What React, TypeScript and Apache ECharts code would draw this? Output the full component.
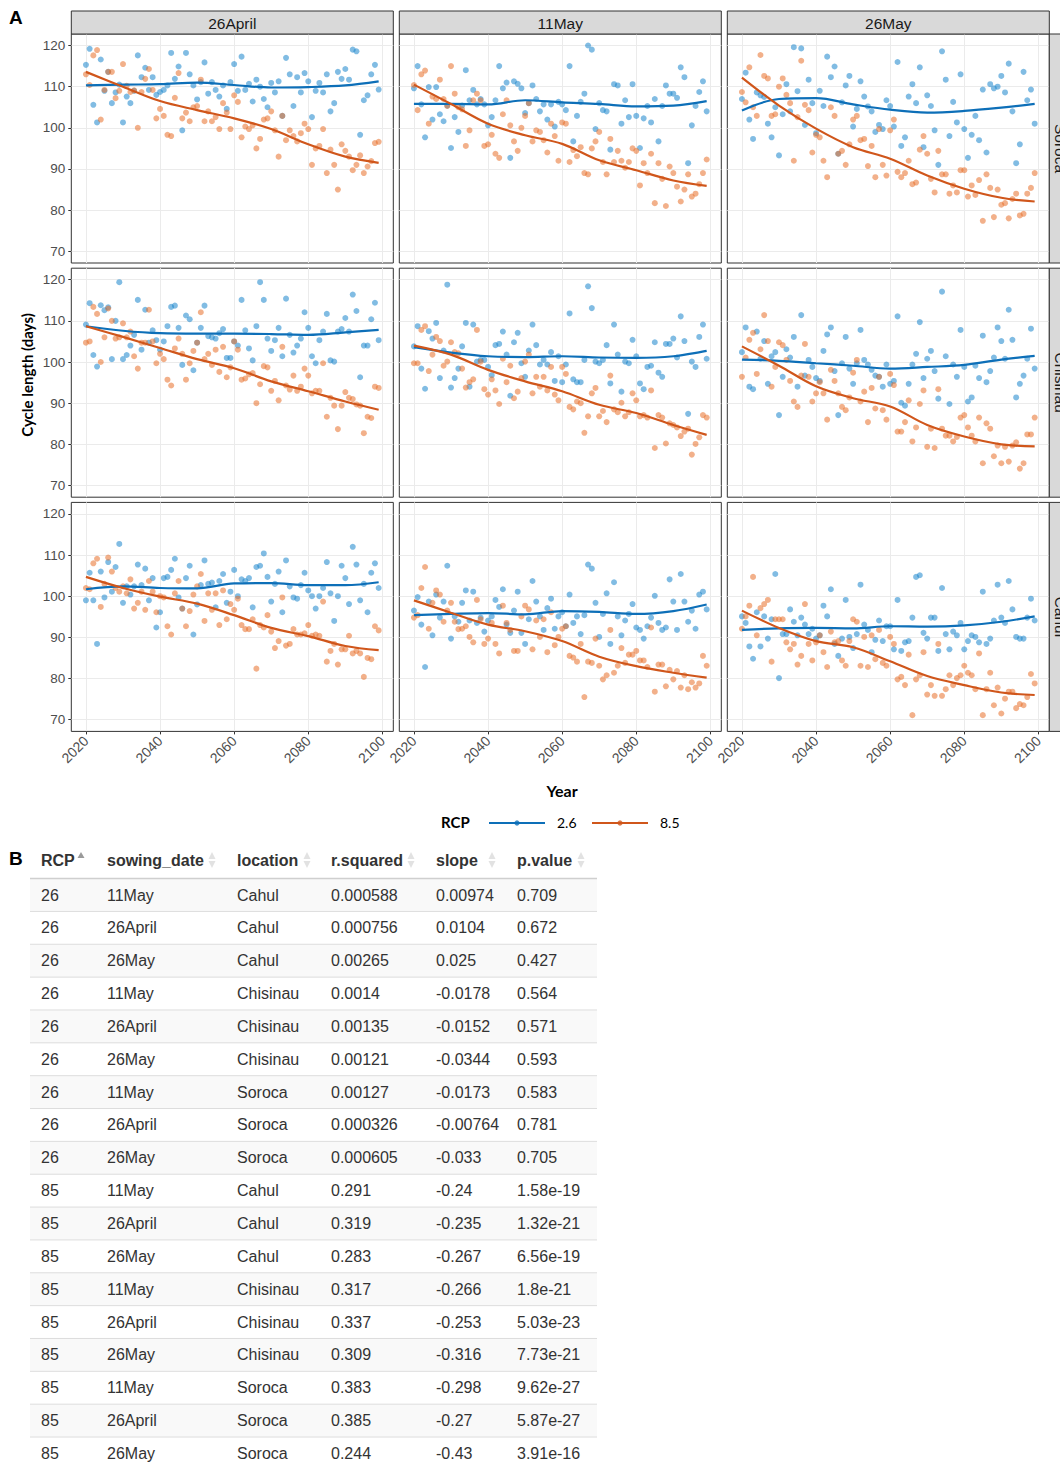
import React, { useEffect, useRef } from "react";
import * as echarts from "echarts";

// ---------- Facets ----------
const locations = ["Soroca", "Chisinau", "Cahul"];
const sowingDates = ["26April", "11May", "26May"];
const firstYear = 2020;
const xTickValues = [2020, 2040, 2060, 2080, 2100];
const yTickValues = [70, 80, 90, 100, 110, 120];
const smoothYears = [2020, 2030, 2040, 2050, 2060, 2070, 2080, 2090, 2099];

// ---------- Yearly cycle length (2020..2099) ----------
const soroca26April_rcp26 = [
  115.3,119.2,105.6,101.3,116.6,109.0,113.6,106.0,108.6,110.5,
  101.3,107.6,106.0,109.0,117.6,112.3,114.6,109.2,112.3,108.0,
  108.7,109.2,110.3,118.2,111.9,114.9,99.4,118.2,113.0,110.3,
  106.9,111.1,115.9,108.3,111.1,109.2,107.6,110.3,104.6,111.1,
  115.5,109.0,117.3,109.2,110.7,106.4,111.7,110.0,107.0,105.0,
  110.9,108.6,111.3,102.9,117.0,113.0,105.3,112.3,108.6,113.3,
  111.3,102.6,109.0,110.9,108.6,113.0,104.0,106.0,113.6,111.9,
  114.3,111.7,119.0,118.6,98.3,106.7,107.9,113.0,115.3,109.3];
const soroca26April_rcp85 = [
  113.0,110.4,117.6,118.9,102.0,109.2,113.6,113.6,107.2,109.0,
  115.5,110.2,108.7,109.1,100.0,108.7,111.9,114.3,109.2,102.3,
  104.6,102.9,98.3,98.0,107.3,113.3,102.3,103.7,101.6,105.0,
  105.3,111.7,101.6,104.0,101.6,102.6,99.7,106.0,103.7,99.7,
  107.9,106.3,97.7,100.3,99.7,100.6,95.0,97.3,102.0,102.3,
  104.0,99.4,93.0,102.9,97.0,99.4,98.0,96.7,98.7,101.0,
  99.7,91.0,95.0,95.6,99.7,89.0,94.7,91.0,85.0,96.0,
  94.4,93.0,89.7,91.0,93.3,89.0,90.6,91.9,96.3,96.6];
const soroca11May_rcp26 = [
  109.6,115.0,105.7,97.7,109.9,102.0,109.9,103.3,101.6,105.4,
  95.1,102.6,99.0,105.4,114.0,106.7,109.2,105.7,107.0,105.7,
  100.6,102.6,106.7,115.0,109.6,111.0,92.7,111.3,110.7,109.6,
  103.6,106.0,110.3,107.0,104.0,105.7,102.0,105.7,100.3,106.3,
  105.7,104.3,115.0,96.7,102.9,106.3,108.3,120.0,119.0,99.7,
  106.0,104.3,104.0,94.7,110.6,110.3,101.0,106.7,102.6,110.6,
  102.9,95.1,102.3,105.3,101.3,107.0,96.7,105.3,110.3,108.3,
  108.3,107.3,114.7,112.3,91.4,100.6,105.3,108.7,111.3,104.0];
const soroca11May_rcp85 = [
  110.4,104.3,113.0,113.9,101.0,107.6,107.0,111.7,107.0,105.3,
  115.0,108.3,105.0,104.5,95.6,99.4,106.7,108.3,106.7,95.6,
  96.0,98.3,93.7,92.7,103.3,106.7,100.6,96.7,94.4,100.0,
  102.9,106.0,96.7,99.4,99.0,97.0,94.0,101.0,98.0,92.0,
  101.3,101.0,91.7,94.6,93.1,95.3,89.0,88.7,95.0,96.7,
  99.0,91.7,88.7,97.3,91.7,94.4,92.0,90.3,91.7,95.0,
  94.4,86.0,91.4,89.0,93.7,81.7,91.4,87.6,81.0,90.6,
  89.0,85.7,82.1,85.0,88.7,83.3,84.0,86.3,89.0,92.3];
const soroca26May_rcp26 = [
  107.0,113.4,102.0,97.3,108.6,107.9,107.5,101.0,97.7,105.0,
  93.3,103.3,110.6,104.0,119.6,108.9,119.3,100.7,111.7,106.0,
  98.7,109.0,105.3,117.3,112.3,114.9,93.7,106.2,110.3,112.6,
  100.3,104.6,111.3,107.6,105.2,104.0,99.0,100.7,99.7,106.7,
  105.3,100.3,116.0,95.6,97.7,107.6,110.6,106.0,114.7,95.3,
  107.9,105.3,99.4,91.0,118.6,111.7,98.0,106.3,101.3,113.0,
  99.7,92.7,98.3,102.9,97.0,109.3,94.0,110.6,109.6,110.0,
  112.6,108.6,115.6,104.0,91.4,96.0,113.6,106.7,109.3,101.0];
const soroca26May_rcp85 = [
  108.7,106.2,114.7,105.0,102.9,117.7,112.6,112.0,102.9,103.3,
  110.0,112.0,108.0,106.0,92.0,102.6,116.3,105.6,104.3,94.0,
  98.3,97.7,92.0,88.0,105.0,102.9,93.7,94.4,91.0,96.0,
  102.0,102.9,97.0,97.3,90.7,95.6,88.0,99.7,91.0,88.4,
  99.4,102.0,89.3,88.0,89.0,92.0,86.3,86.7,94.7,98.0,
  93.7,87.6,84.3,94.4,88.7,88.7,84.0,86.0,84.3,89.7,
  89.7,83.3,86.0,83.7,87.3,77.4,88.7,85.4,78.3,85.0,
  81.3,81.7,78.0,82.7,84.0,78.7,79.1,84.0,85.4,89.0];
const chisinau26April_rcp26 = [
  109.1,114.3,101.7,98.9,113.8,112.6,113.3,100.7,110.0,119.4,
  100.7,101.7,104.0,106.6,115.1,103.0,112.7,104.7,107.7,105.3,
  103.0,105.0,108.7,113.4,113.7,108.3,99.3,111.3,110.4,98.0,
  104.7,108.3,113.7,106.3,106.0,105.7,107.0,108.0,101.0,101.0,
  105.0,104.0,115.1,107.7,103.3,100.4,108.7,119.4,115.1,105.7,
  102.7,105.3,108.3,101.4,115.4,106.6,102.3,104.0,105.7,112.1,
  108.3,101.4,99.7,105.3,107.4,111.7,100.4,100.1,107.4,108.0,
  110.7,107.4,116.4,112.4,96.3,104.0,104.0,110.4,114.4,105.3];
const chisinau26April_rcp85 = [
  104.7,105.0,113.4,111.7,100.0,106.0,113.0,110.0,105.7,106.0,
  109.4,106.0,107.4,101.4,98.4,104.7,104.7,112.7,105.0,99.7,
  102.0,100.7,95.7,94.3,103.3,105.7,102.0,95.7,99.7,102.7,
  104.7,112.1,100.7,102.0,99.3,103.0,97.6,103.7,96.3,98.7,
  105.0,103.0,95.7,96.0,97.0,97.3,90.0,94.6,99.0,98.7,
  93.0,95.4,90.7,103.7,94.3,93.3,96.7,93.0,94.0,98.4,
  96.7,92.4,93.0,93.0,99.7,86.7,91.3,89.4,83.7,89.4,
  92.7,91.3,91.0,89.7,89.4,82.7,86.7,86.4,94.0,93.7];
const chisinau11May_rcp26 = [
  103.8,108.7,98.4,93.5,107.5,105.7,109.5,96.1,102.8,118.8,
  93.8,96.1,98.4,103.8,109.5,94.0,109.1,100.1,100.5,100.5,
  98.8,96.8,104.1,104.4,107.4,101.8,91.8,104.8,107.1,99.7,
  96.4,102.8,109.1,104.1,99.4,100.5,99.4,102.4,95.4,101.4,
  95.1,99.4,111.8,95.8,95.1,95.1,100.5,118.4,113.1,100.1,
  99.7,100.5,104.1,94.8,109.1,101.8,92.8,100.1,99.7,105.4,
  101.4,94.8,93.4,98.8,99.1,104.8,97.4,96.4,104.4,104.4,
  105.7,101.1,111.1,105.1,87.4,100.1,98.8,106.1,109.1,100.8];
const chisinau11May_rcp85 = [
  99.7,99.7,107.8,108.7,97.8,101.8,106.1,105.1,99.1,100.1,
  104.8,102.4,102.1,98.4,93.8,95.1,95.8,107.8,100.1,93.4,
  92.1,95.8,93.1,89.8,100.8,95.1,99.1,91.2,92.8,96.1,
  100.1,101.8,92.4,96.4,94.0,96.4,93.1,98.8,92.1,90.7,
  98.8,97.1,89.1,88.5,90.4,90.0,82.8,86.8,92.4,93.7,
  86.8,88.1,85.4,96.7,88.5,87.8,90.1,86.8,87.8,92.4,
  90.7,86.8,87.1,86.5,93.1,79.1,87.1,86.5,80.2,85.1,
  84.7,84.1,82.0,83.1,83.8,77.5,80.1,81.7,87.1,86.5];
const chisinau26May_rcp26 = [
  102.4,108.4,94.0,93.4,107.4,100.8,105.1,94.7,101.4,102.4,
  87.1,96.4,103.1,101.1,106.1,94.0,111.4,96.7,100.5,98.8,
  96.1,95.4,102.7,106.7,108.4,97.8,87.1,99.7,106.1,98.4,
  94.7,99.7,107.8,100.5,99.4,98.1,96.7,96.4,94.0,99.4,
  94.7,95.4,111.1,90.1,89.4,94.7,99.4,102.0,109.7,96.1,
  100.8,102.7,97.8,91.1,117.1,101.4,89.8,99.4,96.4,107.8,
  98.8,90.4,91.4,99.1,96.1,106.4,95.1,97.8,101.1,108.4,
  105.1,100.8,112.7,105.4,91.4,94.7,96.7,100.8,108.1,98.4];
const chisinau26May_rcp85 = [
  96.4,101.1,105.4,107.1,97.1,103.1,111.4,105.1,94.0,98.8,
  104.8,104.1,100.5,95.4,90.4,89.1,96.7,104.4,96.4,90.4,
  92.4,95.1,92.4,86.0,98.1,95.4,92.4,89.1,88.3,91.4,
  97.4,100.5,90.4,92.8,85.4,93.7,88.7,96.4,88.3,86.0,
  97.1,94.4,83.1,83.1,85.4,90.7,80.7,84.1,89.8,93.1,
  79.4,83.8,79.1,93.4,83.8,82.1,82.1,80.7,81.8,86.5,
  87.1,84.1,82.1,80.7,86.5,75.4,85.1,83.8,77.1,79.7,
  75.4,79.4,75.8,79.7,80.5,74.1,75.4,82.4,82.4,86.5];
const cahul26April_rcp26 = [
  99.0,105.7,99.0,88.4,106.0,99.7,108.3,101.1,107.1,112.7,
  98.4,102.4,100.4,102.4,107.7,102.7,106.7,99.0,104.4,92.4,
  96.1,104.4,104.7,106.4,109.1,99.7,97.0,104.4,107.4,90.7,
  98.0,102.7,108.7,103.0,103.3,97.3,103.7,105.4,98.4,101.1,
  106.4,100.0,104.1,103.7,104.4,97.3,107.1,107.4,110.4,104.7,
  98.7,103.0,106.0,96.1,108.7,102.4,99.7,99.4,102.7,105.7,
  101.4,100.0,97.0,100.0,102.0,108.3,100.7,94.0,100.0,107.4,
  104.4,98.1,112.0,107.7,99.0,103.0,96.1,105.7,108.0,102.0];
const cahul26April_rcp85 = [
  102.0,101.7,108.0,109.1,97.4,103.0,109.4,106.0,102.0,101.1,
  102.4,100.7,104.1,97.0,98.4,101.1,96.7,103.7,101.1,96.1,
  100.0,99.7,92.7,90.7,100.7,103.7,97.0,92.7,96.4,100.4,
  102.4,105.4,94.0,100.7,96.7,100.7,93.0,101.4,94.4,98.1,
  96.7,99.4,93.0,92.0,92.0,94.4,82.4,93.0,92.4,95.4,
  91.4,87.4,89.1,99.7,88.0,88.4,92.0,90.7,90.7,91.0,
  93.0,90.4,90.7,90.4,98.7,84.1,86.7,88.4,83.4,87.1,
  87.1,90.4,86.1,86.7,86.1,80.4,85.0,84.7,92.7,91.7];
const cahul11May_rcp26 = [
  96.5,99.8,93.1,82.8,98.7,90.5,100.4,94.8,98.7,107.4,
  89.7,95.1,93.8,98.4,101.4,94.1,101.1,93.5,94.8,91.4,
  94.1,95.1,99.1,97.4,101.7,93.1,91.1,96.5,101.1,91.1,
  88.4,94.4,103.7,98.7,95.1,91.8,97.1,99.4,92.1,95.1,
  96.1,92.7,100.4,93.5,95.1,90.8,95.4,107.7,106.7,98.4,
  90.1,95.7,100.7,88.4,103.4,95.1,90.5,94.1,95.7,98.1,
  92.4,91.8,89.7,92.7,94.8,100.1,93.5,91.8,92.4,104.1,
  98.7,91.8,105.4,98.7,93.8,96.5,92.1,100.4,101.1,96.8];
const cahul11May_rcp85 = [
  94.8,95.4,102.0,107.1,92.1,98.4,101.4,100.4,93.8,96.5,
  98.4,93.8,92.0,92.1,92.7,90.1,88.8,99.1,94.4,88.4,
  89.7,93.5,88.4,86.1,97.7,93.5,91.8,86.7,86.7,95.1,
  97.7,96.8,87.1,94.1,90.1,94.4,86.4,96.1,88.1,90.1,
  92.1,92.7,85.5,85.1,84.1,88.4,75.5,84.1,83.8,89.7,
  83.1,79.8,80.8,91.8,81.4,83.1,87.4,83.8,85.8,85.8,
  86.7,84.4,84.4,82.8,92.4,76.8,83.4,83.4,78.1,82.1,
  79.8,81.8,77.8,80.8,77.4,79.1,77.8,78.8,85.5,83.1];
const cahul26May_rcp26 = [
  95.1,93.5,87.8,84.8,96.1,87.8,95.1,89.7,94.4,105.4,
  80.1,90.8,90.8,96.8,93.8,90.5,94.8,93.1,90.8,92.1,
  89.7,90.5,97.7,95.1,101.7,88.4,85.5,89.7,99.1,90.1,
  87.4,90.8,102.8,93.1,91.8,86.4,89.4,94.1,89.1,92.7,
  92.7,87.1,99.1,86.7,88.8,89.1,94.8,104.7,105.1,91.1,
  89.7,94.8,94.8,86.7,102.0,90.8,87.1,91.4,90.5,93.5,
  87.1,89.1,90.5,90.1,88.8,101.1,88.4,89.7,94.1,102.8,
  94.8,93.5,103.7,96.8,90.1,89.7,89.7,94.8,99.4,94.1];
const cahul26May_rcp85 = [
  92.1,95.1,97.7,104.7,90.5,97.1,98.1,99.1,84.1,94.4,
  94.4,94.4,88.8,87.1,88.4,83.4,85.5,98.1,88.4,84.4,
  88.8,90.5,86.4,82.8,91.4,88.8,89.1,84.4,83.1,89.1,
  94.4,93.8,83.1,90.1,82.8,90.5,84.7,91.8,83.8,83.1,
  90.1,88.4,79.8,80.4,78.4,85.8,71.1,79.8,80.8,86.4,
  76.1,78.4,75.8,88.4,75.8,77.4,80.8,78.4,80.1,80.8,
  83.1,81.4,80.8,77.4,86.1,71.1,77.4,81.4,73.5,77.8,
  71.5,75.1,76.8,76.8,72.8,73.8,73.5,75.5,81.1,78.8];

// ---------- Loess fits read at smoothYears ----------
const soroca26April_fit26 = [110.3,110.5,110.6,111.0,110.4,109.8,109.9,110.3,111.3];
const soroca26April_fit85 = [113.6,110.0,106.5,104.3,102.3,99.7,96.0,93.0,91.5];
const soroca11May_fit26 = [105.8,105.8,105.7,106.7,106.2,105.8,105.2,105.4,106.5];
const soroca11May_fit85 = [110.5,105.8,101.0,98.2,96.1,92.1,89.7,87.2,85.9];
const soroca26May_fit26 = [104.2,107.0,107.2,105.7,104.4,103.7,104.1,104.9,105.8];
const soroca26May_fit85 = [112.2,105.4,99.8,95.3,92.5,88.4,85.2,83.0,82.1];
const chisinau26April_fit26 = [108.7,107.6,107.0,106.9,106.9,106.8,106.6,107.2,107.8];
const chisinau26April_fit85 = [108.7,106.1,103.4,100.7,98.5,95.3,92.9,90.4,88.4];
const chisinau11May_fit26 = [103.6,102.3,101.4,101.2,101.4,101.1,101.0,101.4,102.7];
const chisinau11May_fit85 = [104.0,101.8,98.1,95.3,92.9,89.6,87.6,84.7,82.3];
const chisinau26May_fit26 = [100.6,100.3,99.7,99.1,98.4,98.8,99.3,100.6,101.5];
const chisinau26May_fit85 = [103.8,99.1,94.1,91.2,89.2,84.7,81.9,80.0,79.5];
const cahul26April_fit26 = [101.7,102.4,102.0,101.9,103.1,103.2,102.7,102.7,103.4];
const cahul26April_fit85 = [104.7,102.0,99.9,98.2,95.4,92.3,90.3,87.9,86.9];
const cahul11May_fit26 = [95.4,95.7,95.9,95.6,96.4,96.2,95.7,96.4,98.0];
const cahul11May_fit85 = [99.0,96.0,93.1,91.5,89.1,85.3,83.0,81.4,80.2];
const cahul26May_fit26 = [91.8,92.2,92.3,92.2,92.7,92.6,92.9,93.8,95.1];
const cahul26May_fit85 = [96.5,92.3,89.1,87.6,84.2,80.6,78.4,76.6,76.0];

// ---------- Table B ----------
const tableHeaders = ["RCP", "sowing_date", "location", "r.squared", "slope", "p.value"];
const tableRCP = ["26","26","26","26","26","26","26","26","26","85","85","85","85","85","85","85","85","85"];
const tableSowing = ["11May","26April","26May","11May","26April","26May","11May","26April","26May","11May","26April","26May","11May","26April","26May","11May","26April","26May"];
const tableLocation = ["Cahul","Cahul","Cahul","Chisinau","Chisinau","Chisinau","Soroca","Soroca","Soroca","Cahul","Cahul","Cahul","Chisinau","Chisinau","Chisinau","Soroca","Soroca","Soroca"];
const tableRSquared = ["0.000588","0.000756","0.00265","0.0014","0.00135","0.00121","0.00127","0.000326","0.000605","0.291","0.319","0.283","0.317","0.337","0.309","0.383","0.385","0.244"];
const tableSlope = ["0.00974","0.0104","0.025","-0.0178","-0.0152","-0.0344","-0.0173","-0.00764","-0.033","-0.24","-0.235","-0.267","-0.266","-0.253","-0.316","-0.298","-0.27","-0.43"];
const tablePValue = ["0.709","0.672","0.427","0.564","0.571","0.593","0.583","0.781","0.705","1.58e-19","1.32e-21","6.56e-19","1.8e-21","5.03e-23","7.73e-21","9.62e-27","5.87e-27","3.91e-16"];

const panels = [
  [soroca26April_rcp26, soroca26April_rcp85, soroca26April_fit26, soroca26April_fit85],
  [soroca11May_rcp26, soroca11May_rcp85, soroca11May_fit26, soroca11May_fit85],
  [soroca26May_rcp26, soroca26May_rcp85, soroca26May_fit26, soroca26May_fit85],
  [chisinau26April_rcp26, chisinau26April_rcp85, chisinau26April_fit26, chisinau26April_fit85],
  [chisinau11May_rcp26, chisinau11May_rcp85, chisinau11May_fit26, chisinau11May_fit85],
  [chisinau26May_rcp26, chisinau26May_rcp85, chisinau26May_fit26, chisinau26May_fit85],
  [cahul26April_rcp26, cahul26April_rcp85, cahul26April_fit26, cahul26April_fit85],
  [cahul11May_rcp26, cahul11May_rcp85, cahul11May_fit26, cahul11May_fit85],
  [cahul26May_rcp26, cahul26May_rcp85, cahul26May_fit26, cahul26May_fit85],
];

// ---------- Layout / style ----------
const W = 1060, H = 1466;
const gridLefts = [71.3, 399.3, 727.3];
const gridTops = [34, 268.2, 502.4];
const gridW = 322, gridH = 229;
const stripH = 23;
const xMin = 2016.05, xMax = 2102.95;
const yMin = 67.15, yMax = 122.8;
const BLUE_PT = "#1a85cc", ORANGE_PT = "#e8702a";
const BLUE_LN = "#0d6fb8", ORANGE_LN = "#d0561b";
const TICK_FONT = "Liberation Sans, Arial, sans-serif";
const TITLE_FONT = "Lato, 'Noto Sans', sans-serif";

const tableColX = [41, 107, 237, 331, 436, 517];
const tableArrowX = [81, 212, 307, 411, 492, 581];
const tableHeaderY = 860;
const tableRow0Y = 895;
const tableRowH = 32.85;
const tableLeft = 30, tableRight = 597;

function buildOption() {
  const grid: any[] = [], xAxis: any[] = [], yAxis: any[] = [], series: any[] = [];
  const graphic: any[] = [];

  panels.forEach((p, idx) => {
    const r = Math.floor(idx / 3), c = idx % 3;
    grid.push({
      left: gridLefts[c], top: gridTops[r], width: gridW, height: gridH,
      show: true, borderColor: "#333", borderWidth: 1, backgroundColor: "#fff",
    });
    xAxis.push({
      gridIndex: idx, type: "value", min: xMin, max: xMax, splitNumber: 5,
      axisLine: { show: false },
      axisTick: { show: r === 2, length: 3, lineStyle: { color: "#333" }, customValues: xTickValues },
      axisLabel: {
        show: r === 2, rotate: 45, margin: 7, fontSize: 14, color: "#4d4d4d", fontFamily: TICK_FONT,
        customValues: xTickValues,
        formatter: (v: number) => (Math.abs(v % 20) < 1e-6 ? String(Math.round(v)) : ""),
      },
      splitLine: { show: true, lineStyle: { color: "#ebebeb", width: 1 } },
    });
    yAxis.push({
      gridIndex: idx, type: "value", min: yMin, max: yMax, splitNumber: 5,
      axisLine: { show: false },
      axisTick: { show: c === 0, length: 3, lineStyle: { color: "#333" }, customValues: yTickValues },
      axisLabel: {
        show: c === 0, margin: 6, fontSize: 13.5, color: "#4d4d4d", fontFamily: TICK_FONT,
        customValues: yTickValues,
        formatter: (v: number) => (Math.abs(v % 10) < 1e-6 ? String(Math.round(v)) : ""),
      },
      splitLine: { show: true, lineStyle: { color: "#ebebeb", width: 1 } },
    });
    const [b, o, fb, fo] = p;
    series.push({
      type: "scatter", xAxisIndex: idx, yAxisIndex: idx, symbolSize: 6,
      itemStyle: { color: BLUE_PT, opacity: 0.55 },
      data: b.map((v, i) => [firstYear + i, v]), z: 2,
    });
    series.push({
      type: "scatter", xAxisIndex: idx, yAxisIndex: idx, symbolSize: 6,
      itemStyle: { color: ORANGE_PT, opacity: 0.55 },
      data: o.map((v, i) => [firstYear + i, v]), z: 2,
    });
    series.push({
      type: "line", xAxisIndex: idx, yAxisIndex: idx, smooth: 0.35, showSymbol: false,
      lineStyle: { color: BLUE_LN, width: 2.2 }, data: smoothYears.map((y, i) => [y, fb[i]]), z: 3,
    });
    series.push({
      type: "line", xAxisIndex: idx, yAxisIndex: idx, smooth: 0.35, showSymbol: false,
      lineStyle: { color: ORANGE_LN, width: 2.2 }, data: smoothYears.map((y, i) => [y, fo[i]]), z: 3,
    });
  });

  const txt = (x: number, y: number, text: string, font: string, fill: string, align = "left", vAlign = "middle", rotation = 0) => ({
    type: "text", x, y, rotation, z: 10,
    style: { text, font, fill, align, textAlign: align, verticalAlign: vAlign, textVerticalAlign: vAlign },
  });

  // top strips
  sowingDates.forEach((d, c) => {
    graphic.push({
      type: "rect", z: 5,
      shape: { x: gridLefts[c], y: gridTops[0] - stripH, width: gridW, height: stripH },
      style: { fill: "#d9d9d9", stroke: "#333", lineWidth: 1 },
    });
    graphic.push(txt(gridLefts[c] + gridW / 2, gridTops[0] - stripH / 2 + 0.5, d, `15.5px ${TICK_FONT}`, "#1a1a1a", "center"));
  });
  // right strips (cut by the page edge, as in the original figure)
  locations.forEach((l, r) => {
    const sx = gridLefts[2] + gridW;
    graphic.push({
      type: "rect", z: 5,
      shape: { x: sx, y: gridTops[r], width: stripH, height: gridH },
      style: { fill: "#d9d9d9", stroke: "#333", lineWidth: 1 },
    });
    graphic.push(txt(sx + stripH / 2, gridTops[r] + gridH / 2, l, `15.5px ${TICK_FONT}`, "#1a1a1a", "center", "middle", -Math.PI / 2));
  });

  // panel letters & axis titles
  graphic.push(txt(9, 17, "A", `bold 19px ${TICK_FONT}`, "#000"));
  graphic.push(txt(9, 858, "B", `bold 19px ${TICK_FONT}`, "#000"));
  graphic.push(txt(27, 375, "Cycle length (days)", `bold 15px ${TITLE_FONT}`, "#000", "center", "middle", Math.PI / 2));
  graphic.push(txt(562, 790, "Year", `bold 16px ${TITLE_FONT}`, "#000", "center"));

  // legend
  graphic.push(txt(441, 822, "RCP", `bold 15px ${TITLE_FONT}`, "#000"));
  const legItems = [
    { x: 489, label: "2.6", color: BLUE_LN },
    { x: 592, label: "8.5", color: ORANGE_LN },
  ];
  legItems.forEach((it) => {
    graphic.push({ type: "line", z: 10, shape: { x1: it.x, y1: 823, x2: it.x + 56, y2: 823 }, style: { stroke: it.color, lineWidth: 2.2 } });
    graphic.push({ type: "circle", z: 11, shape: { cx: it.x + 28, cy: 823, r: 2.6 }, style: { fill: it.color, opacity: 0.8 } });
    graphic.push(txt(it.x + 68, 822, it.label, `14px ${TITLE_FONT}`, "#000"));
  });

  // table
  const cols = [tableRCP, tableSowing, tableLocation, tableRSquared, tableSlope, tablePValue];
  tableRCP.forEach((_, i) => {
    const cy = tableRow0Y + i * tableRowH;
    if (i % 2 === 0) {
      graphic.push({ type: "rect", z: 1, shape: { x: tableLeft, y: cy - tableRowH / 2, width: tableRight - tableLeft, height: tableRowH }, style: { fill: "#f9f9f9" } });
    }
    graphic.push({ type: "line", z: 2, shape: { x1: tableLeft, y1: cy + tableRowH / 2, x2: tableRight, y2: cy + tableRowH / 2 }, style: { stroke: "#dddddd", lineWidth: 1 } });
    cols.forEach((col, j) => {
      graphic.push(txt(tableColX[j], cy, col[i], `16px ${TICK_FONT}`, "#333"));
    });
  });
  graphic.push({ type: "line", z: 2, shape: { x1: tableLeft, y1: tableRow0Y - tableRowH / 2, x2: tableRight, y2: tableRow0Y - tableRowH / 2 }, style: { stroke: "#cfcfcf", lineWidth: 1.5 } });
  tableHeaders.forEach((h, j) => {
    graphic.push(txt(tableColX[j], tableHeaderY, h, `bold 16px ${TICK_FONT}`, "#333"));
    const ax = tableArrowX[j];
    if (j === 0) {
      graphic.push({ type: "polygon", z: 10, shape: { points: [[ax - 3.5, tableHeaderY - 2], [ax + 3.5, tableHeaderY - 2], [ax, tableHeaderY - 8]] }, style: { fill: "#9a9a9a" } });
    } else {
      graphic.push({ type: "polygon", z: 10, shape: { points: [[ax - 3.5, tableHeaderY - 1], [ax + 3.5, tableHeaderY - 1], [ax, tableHeaderY - 8]] }, style: { fill: "#e2e2e2" } });
      graphic.push({ type: "polygon", z: 10, shape: { points: [[ax - 3.5, tableHeaderY + 1], [ax + 3.5, tableHeaderY + 1], [ax, tableHeaderY + 8]] }, style: { fill: "#e2e2e2" } });
    }
  });

  return {
    animation: false,
    backgroundColor: "#fff",
    grid, xAxis, yAxis, series, graphic,
  };
}

export default function App() {
  const ref = useRef<HTMLDivElement>(null);
  useEffect(() => {
    if (!ref.current) return;
    const chart = echarts.init(ref.current, undefined, { renderer: "svg", width: W, height: H });
    chart.setOption(buildOption() as any);
    return () => chart.dispose();
  }, []);
  return <div ref={ref} style={{ position: "absolute", left: 0, top: 0, width: W, height: H }} />;
}
